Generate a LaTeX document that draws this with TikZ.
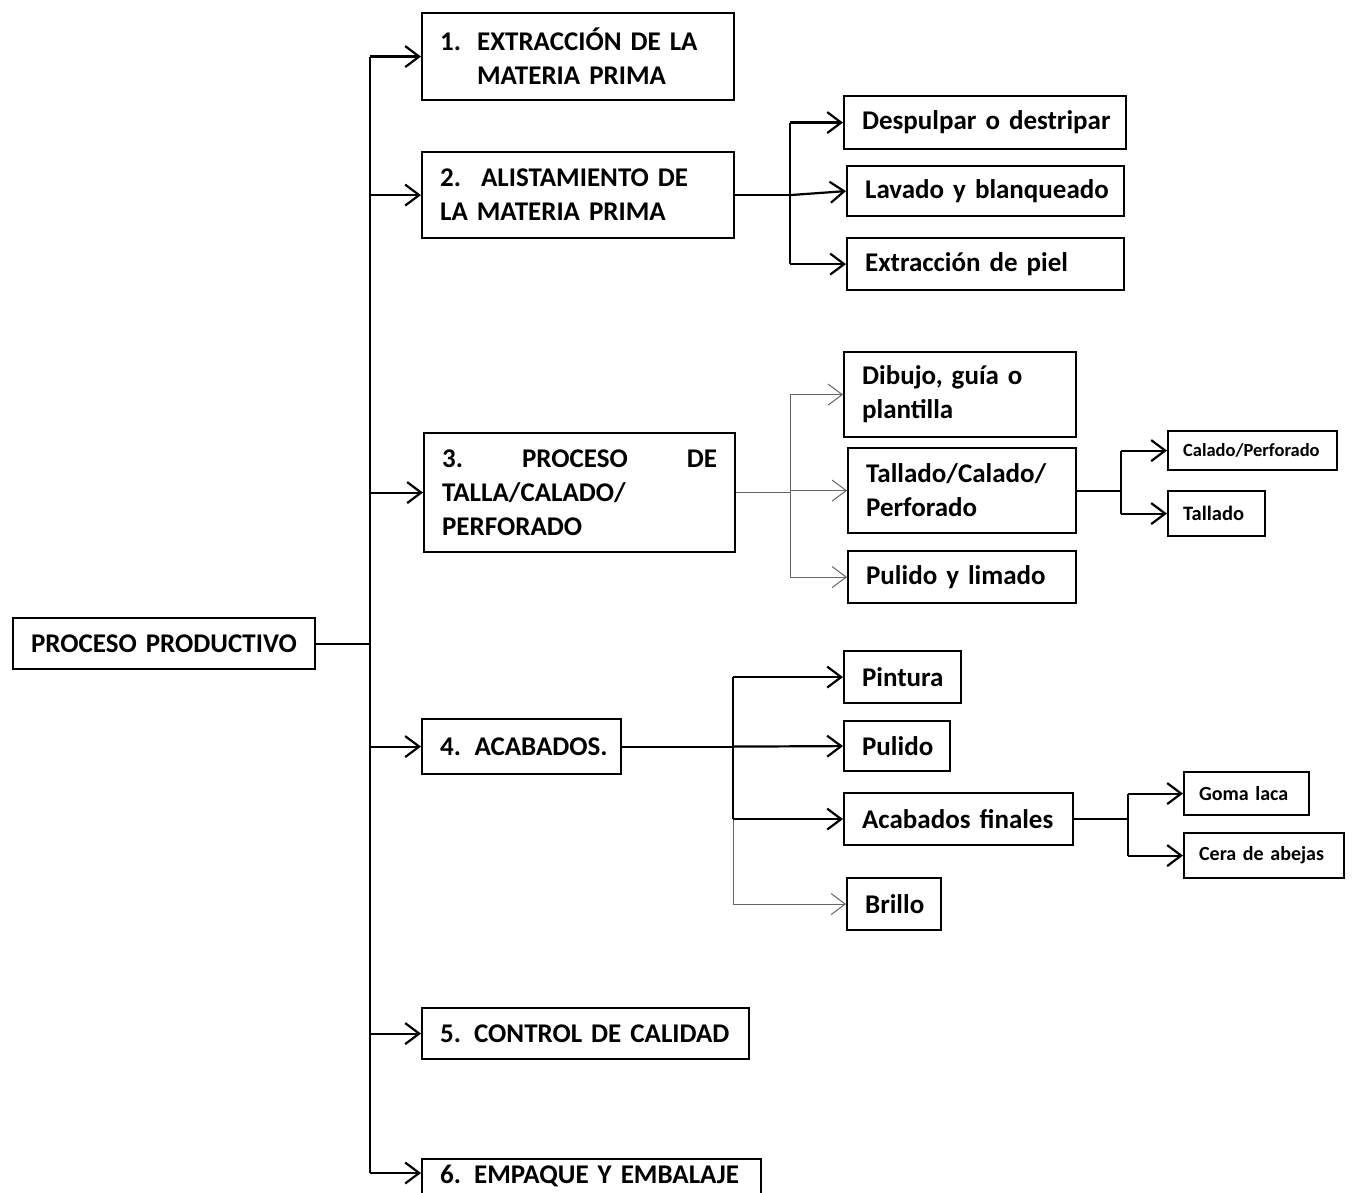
\documentclass[tikz,border=0pt]{standalone}
\usepackage{fontspec}
\setmainfont{Carlito}
\usetikzlibrary{arrows.meta}
\newcommand{\tightwords}{\setlength{\spaceskip}{0.17em}}

\begin{document}
\begin{tikzpicture}[x=1pt,y=-1pt,
  box/.style={draw,line width=2.2pt,anchor=north west,align=left,
    inner xsep=18pt,inner ysep=0pt,font=\bfseries\fontsize{27}{34}\selectfont\tightwords},
  small/.style={inner xsep=15pt,font=\bfseries\fontsize{#1}{22}\selectfont\tightwords},
  line/.style={line width=2.2pt},
  thinline/.style={line width=1pt,draw=black!60},
  arr/.style={-{Straight Barb[length=14pt,width=21pt]}}]
  \useasboundingbox (0,0) rectangle (1354,1193);
  \fill[white] (0,0) rectangle (1354,1193);

  % main column
  \node[box,text width=266pt,minimum height=51pt] (root) at (12,617) {\mbox{PROCESO PRODUCTIVO}};
  \node[box,text width=276pt,minimum height=87pt] (b1) at (421,12)
    {\makebox[37pt][l]{1.}EXTRACCIÓN DE LA\\\hspace*{37pt}MATERIA PRIMA};
  \node[box,text width=276pt,minimum height=86pt] (b2) at (421,151)
    {\makebox[41pt][l]{2.}ALISTAMIENTO DE\\LA MATERIA PRIMA};
  \node[box,text width=275pt,minimum height=119pt] (b3) at (423,432)
    {3.\hfill PROCESO\hfill DE\\TALLA/CALADO/\\PERFORADO};
  \node[box,text width=163pt,minimum height=55pt] (b4) at (421,718) {\mbox{4. ACABADOS.}};
  \node[box,text width=291pt,minimum height=51pt] (b5) at (421,1007)
    {\mbox{\makebox[34pt][l]{5.}CONTROL DE CALIDAD}};
  \node[box,text width=303pt,text height=18pt,text depth=40pt,inner ysep=6pt] (b6) at (421,1158)
    {\mbox{\makebox[34pt][l]{6.}EMPAQUE Y EMBALAJE}};

  % alistamiento
  \node[box,text width=246pt,minimum height=53pt] (d1) at (843,95) {\mbox{Despulpar o destripar}};
  \node[box,text width=241pt,minimum height=50pt] (d2) at (846,165) {\mbox{Lavado y blanqueado}};
  \node[box,text width=241pt,minimum height=52pt] (d3) at (846,237) {\mbox{Extracción de piel}};

  % talla
  \node[box,text width=196pt,minimum height=85pt] (t1) at (843,351) {Dibujo, guía o\\plantilla};
  \node[box,text width=192pt,minimum height=85pt] (t2) at (847,447) {Tallado/Calado/\\Perforado};
  \node[box,text width=192pt,minimum height=52pt] (t3) at (847,550) {\mbox{Pulido y limado}};
  \node[box,small=18.5,text width=139pt,minimum height=39pt] (s1) at (1167,430) {\mbox{Calado/Perforado}};
  \node[box,small=20.5,text width=67pt,minimum height=45pt] (s2) at (1167,490) {\mbox{Tallado}};

  % acabados
  \node[box,text width=81pt,minimum height=52pt] (a1) at (843,650) {\mbox{Pintura}};
  \node[box,text width=70pt,minimum height=50pt] (a2) at (843,720) {\mbox{Pulido}};
  \node[box,text width=193pt,minimum height=52pt] (a3) at (843,792) {\mbox{Acabados finales}};
  \node[box,text width=58pt,minimum height=52pt] (a4) at (846,877) {\mbox{Brillo}};
  \node[box,small=20,text width=95pt,minimum height=43pt] (g1) at (1183,771) {\mbox{Goma laca}};
  \node[box,small=20,text width=130pt,minimum height=45pt] (g2) at (1183,832) {\mbox{Cera de abejas}};

  \coordinate (j0) at (370,643);
  \coordinate (j2) at (790,194);
  \coordinate (j3) at (790,491);
  \coordinate (j4) at (1121,490);
  \coordinate (j5) at (733,746);
  \coordinate (j6) at (1128,818);
  \coordinate (b6w) at ([yshift=-15pt]b6.north west);

  % trunk
  \draw[line] (root.east) -- (j0 |- root.east);
  \draw[line] (j0 |- b1.west) -- (j0 |- b6w);
  \foreach \b in {b1,b2,b3,b4,b5}
    \draw[line,arr] (j0 |- \b.west) -- (\b.west);
  \draw[line,arr] (j0 |- b6w) -- (b6w);

  \draw[line] (b2.east) -- (j2 |- b2.east);
  \draw[line] (j2 |- d1.west) -- (j2 |- d3.west);
  \draw[line,arr] (j2 |- d1.west) -- (d1.west);
  \draw[line,arr] (j2 |- b2.east) -- (d2.west);
  \draw[line,arr] (j2 |- d3.west) -- (d3.west);

  \draw[thinline] (b3.east) -- (j3 |- b3.east);
  \draw[thinline] (j3 |- t1.west) -- (j3 |- t3.west);
  \foreach \t in {t1,t2,t3}
    \draw[thinline,arr] (j3 |- \t.west) -- (\t.west);

  \draw[line] (t2.east) -- (j4 |- t2.east);
  \draw[line] (j4 |- s1.west) -- (j4 |- s2.west);
  \draw[line,arr] (j4 |- s1.west) -- (s1.west);
  \draw[line,arr] (j4 |- s2.west) -- (s2.west);

  \draw[line] (b4.east) -- (j5 |- b4.east);
  \draw[line] (j5 |- a1.west) -- (j5 |- a3.west);
  \draw[thinline] (j5 |- a3.west) -- (j5 |- a4.west);
  \draw[line,arr] (j5 |- a1.west) -- (a1.west);
  \draw[line,arr] (j5 |- b4.east) -- (a2.west);
  \draw[line,arr] (j5 |- a3.west) -- (a3.west);
  \draw[thinline,arr] (j5 |- a4.west) -- (a4.west);

  \draw[line] (a3.east) -- (j6 |- a3.east);
  \draw[line] (j6 |- g1.west) -- (j6 |- g2.west);
  \draw[line,arr] (j6 |- g1.west) -- (g1.west);
  \draw[line,arr] (j6 |- g2.west) -- (g2.west);
\end{tikzpicture}
\end{document}
